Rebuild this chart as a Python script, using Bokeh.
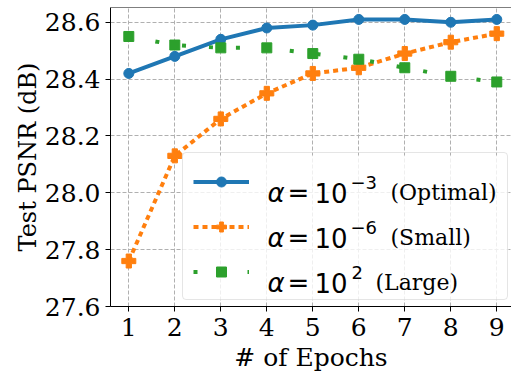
from bokeh.plotting import figure
from bokeh.models import (Range1d, FixedTicker, PrintfTickFormatter, Legend, LegendItem,
                          Label, Span, BoxAnnotation)
from bokeh.embed import file_html
from bokeh.resources import INLINE

# ---- data ----
epochs = [1, 2, 3, 4, 5, 6, 7, 8, 9]
psnr_optimal = [28.42, 28.48, 28.54, 28.58, 28.59, 28.61, 28.61, 28.60, 28.61]
psnr_small = [27.76, 28.13, 28.26, 28.35, 28.42, 28.44, 28.49, 28.53, 28.56]
psnr_large = [28.55, 28.52, 28.51, 28.51, 28.49, 28.47, 28.44, 28.41, 28.39]
x_ticks = [1, 2, 3, 4, 5, 6, 7, 8, 9]
y_ticks = [27.6, 27.8, 28.0, 28.2, 28.4, 28.6]
x_label = "# of Epochs"
y_label = "Test PSNR (dB)"
legend_exps = ["\u22123", "\u22126", "2"]
legend_names = ["(Optimal)", "(Small)", "(Large)"]

BLUE, ORANGE, GREEN = "#1f77b4", "#ff7f0e", "#2ca02c"
SANS = "DejaVu Sans"
SERIF = "DejaVu Serif"

y_lo, y_hi = 27.6, 28.652
p = figure(width=511, height=375, output_backend="svg", toolbar_location=None,
           x_range=Range1d(0.602, 9.32), y_range=Range1d(y_lo, y_hi),
           min_border_left=110, min_border_right=0, min_border_top=7, min_border_bottom=69)
p.outline_line_color = None
p.background_fill_color = "white"
p.border_fill_color = "white"

for ax in (p.xaxis[0], p.yaxis[0]):
    ax.axis_line_color = "black"
    ax.axis_line_width = 1
    ax.major_tick_line_color = "black"
    ax.major_tick_out = 5
    ax.major_tick_in = 0
    ax.minor_tick_line_color = None
    ax.major_label_text_font = SERIF
    ax.major_label_text_font_size = "25px"
    ax.major_label_text_color = "black"
    ax.axis_label_text_font = SERIF
    ax.axis_label_text_font_size = "25px"
    ax.axis_label_text_font_style = "normal"
    ax.axis_label_text_color = "black"

p.yaxis.axis_label_text_font_size = "24px"
p.xaxis.ticker = FixedTicker(ticks=x_ticks)
p.yaxis.ticker = FixedTicker(ticks=y_ticks)
p.yaxis.formatter = PrintfTickFormatter(format="%.1f")
p.xaxis.axis_label = x_label
p.yaxis.axis_label = y_label
p.xaxis.major_label_standoff = 6
p.yaxis.major_label_standoff = 5
p.xaxis.axis_label_standoff = 4
p.yaxis.axis_label_standoff = 0

for g in (p.xgrid[0], p.ygrid[0]):
    g.grid_line_color = "#b0b0b0"
    g.grid_line_dash = "4 2"
    g.grid_line_width = 1

p.add_layout(Span(location=y_hi, dimension="width", line_color="black", line_width=1))

# ---- series ----
l1 = p.line(epochs, psnr_optimal, line_width=4, color=BLUE)
s1 = p.scatter(epochs, psnr_optimal, marker="circle", size=10, color=BLUE)
l2 = p.line(epochs, psnr_small, line_width=4, color=ORANGE, line_dash="5 4")
s2 = p.scatter(epochs, psnr_small, marker="plus", size=14, color=ORANGE)
l3 = p.line(epochs, psnr_large, line_width=4, color=GREEN, line_dash="4 23")
s3 = p.scatter(epochs, psnr_large, marker="square", size=10, color=GREEN)

box = BoxAnnotation(left=72, right=398, bottom=6, top=151,
                    left_units="screen", right_units="screen",
                    bottom_units="screen", top_units="screen",
                    fill_color="white", fill_alpha=0.8, line_color=None)
p.add_layout(box)

legend = Legend(items=[LegendItem(label=" ", renderers=[l1, s1]),
                       LegendItem(label=" ", renderers=[l2, s2]),
                       LegendItem(label=" ", renderers=[l3, s3])],
                location=(72, 6), orientation="vertical",
                padding=10, spacing=9, margin=0,
                glyph_width=56, glyph_height=25, label_height=36, label_width=238,
                label_standoff=10, label_text_font_size="10px",
                border_line_color="#cccccc", border_line_width=1,
                background_fill_color=None, background_fill_alpha=0)
try:
    legend.border_radius = 4
except Exception:
    pass
p.add_layout(legend, "center")

# legend texts (screen units relative to frame)
baselines = [114, 69, 24]
for i, yb in enumerate(baselines):
    p.add_layout(Label(x=157, y=yb, x_units="screen", y_units="screen", text="\u03b1",
                       text_font=SANS, text_font_style="italic", text_font_size="26px",
                       text_baseline="alphabetic", text_color="black"))
    p.add_layout(Label(x=177, y=yb, x_units="screen", y_units="screen", text="=",
                       text_font=SANS, text_font_size="26px",
                       text_baseline="alphabetic", text_color="black"))
    p.add_layout(Label(x=204, y=yb, x_units="screen", y_units="screen", text="10",
                       text_font=SANS, text_font_size="26px",
                       text_baseline="alphabetic", text_color="black"))
    p.add_layout(Label(x=240 if i < 2 else 241, y=yb + 10, x_units="screen", y_units="screen",
                       text=legend_exps[i], text_font=SANS, text_font_size="18px",
                       text_baseline="alphabetic", text_color="black"))
    xs = 280 if i < 2 else 265
    p.add_layout(Label(x=xs, y=yb, x_units="screen", y_units="screen",
                       text=legend_names[i], text_font=SERIF,
                       text_font_size="22px",
                       text_baseline="alphabetic", text_color="black"))

open("out.html", "w").write(file_html(p, INLINE))
